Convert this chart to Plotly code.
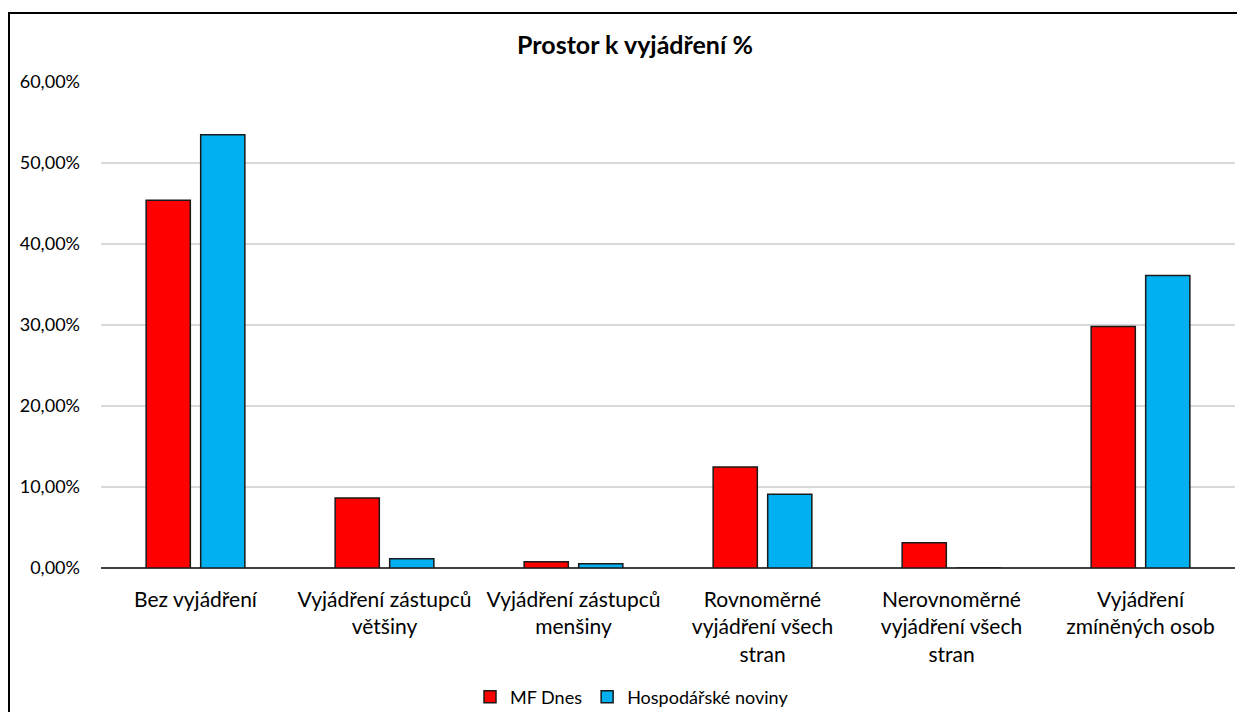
import plotly.graph_objects as go

# Data (fractions, shown as %)
categories = [
    "Bez vyjádření",
    "Vyjádření zástupců<br>většiny",
    "Vyjádření zástupců<br>menšiny",
    "Rovnoměrné<br>vyjádření všech<br>stran",
    "Nerovnoměrné<br>vyjádření všech<br>stran",
    "Vyjádření<br>zmíněných osob",
]
mf_dnes = [0.4540, 0.0864, 0.0078, 0.1247, 0.0312, 0.2980]
hosp_noviny = [0.5350, 0.0115, 0.0053, 0.0909, 0.0, 0.3610]
y_ticks = [0.0, 0.1, 0.2, 0.3, 0.4, 0.5, 0.6]

FONT = "Lato, 'Open Sans', sans-serif"

# the page body has an 8px margin, so the figure is drawn 8px in from the corner
OFF = 8
W, H = 1245 - 2 * OFF, 720 - 2 * OFF
L, T = 101 - OFF, 82 - OFF
R, B = W - (1235 - OFF), H - (568 - OFF)
pw, ph = W - L - R, H - T - B


def px_x(x):
    return (x - OFF - L) / pw


def px_y(y):
    return (H - B - (y - OFF)) / ph


fig = go.Figure()
fig.add_trace(go.Bar(
    name="MF Dnes", x=categories, y=mf_dnes,
    marker=dict(color="#ff0000", line=dict(color="#1a1a1a", width=1.5)),
))
fig.add_trace(go.Bar(
    name="Hospodářské noviny", x=categories, y=hosp_noviny,
    marker=dict(color="#00b0f0", line=dict(color="#1a1a1a", width=1.5)),
))

# outer chart frame: only its top and left edges fall inside the picture
frame = dict(type="line", xref="paper", yref="paper",
             line=dict(color="black", width=2))
fig.add_shape(x0=px_x(8), x1=px_x(1260), y0=px_y(13), y1=px_y(13), **frame)
fig.add_shape(x0=px_x(9), x1=px_x(9), y0=px_y(12), y1=px_y(740), **frame)

fig.update_layout(
    width=W, height=H,
    margin=dict(l=L, r=R, t=T, b=B, autoexpand=False),
    paper_bgcolor="white", plot_bgcolor="white",
    separators=", ",
    font=dict(family=FONT, size=17, color="#000000"),
    title=dict(
        text="<b>Prostor k vyjádření %</b>",
        x=px_x(635), xanchor="center", xref="paper",
        y=1 - (45 - OFF) / H, yanchor="middle",
        font=dict(family=FONT, size=25, color="#000000"),
    ),
    barmode="group", bargap=0.423, bargroupgap=0.19,
    showlegend=True,
    legend=dict(
        orientation="h", x=px_x(632), xanchor="center", y=px_y(697),
        yanchor="middle", font=dict(family=FONT, size=18),
        itemwidth=30, traceorder="normal",
    ),
    xaxis=dict(
        showgrid=False, showline=False, ticks="",
        tickfont=dict(family=FONT, size=21), ticklabelstandoff=17,
    ),
    yaxis=dict(
        range=[0, 0.6], tickvals=y_ticks, tickformat=".2%",
        showgrid=True, gridcolor="#d9d9d9", gridwidth=1.5,
        zeroline=True, zerolinecolor="#404040", zerolinewidth=1.5,
        showline=False, ticks="", ticklabelstandoff=20,
        tickfont=dict(family=FONT, size=18),
    ),
)

fig.write_html("out.html")
